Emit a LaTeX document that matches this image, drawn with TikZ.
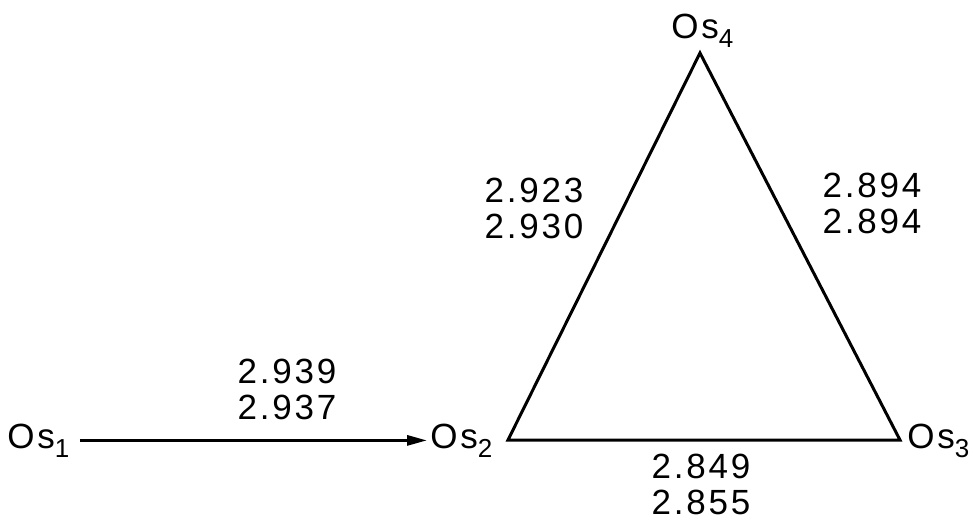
\documentclass[tikz,border=0pt]{standalone}
\usepackage{fontspec}
\setmainfont[LetterSpace=8]{Liberation Sans}
\usetikzlibrary{arrows.meta}

\newcommand{\Os}[1]{Os\raisebox{-0.5ex}{\fontsize{13}{13}\selectfont #1}}

\begin{document}
\begin{tikzpicture}[
  x=0.5pt, y=-0.5pt,
  atom/.style={inner sep=0pt, anchor=base west, font=\fontsize{17.5}{18}\selectfont},
  dist/.style={inner sep=0pt, align=center, font=\fontsize{17.5}{18}\selectfont},
  bond/.style={line width=1.5pt, line join=miter},
  arr/.style={line width=1.5pt, -{Triangle[length=10pt,width=5pt]}},
]
\useasboundingbox (0,0) rectangle (976,520);

% === Atoms ===
\node[atom] (os1) at (7,448) {\Os{1}};
\node[atom] (os2) at (430,448) {\Os{2}};
\node[atom] (os3) at (907,448) {\Os{3}};
\node[atom] (os4) at (671,38) {\Os{4}};

% === Triangle corners ===
\coordinate (v2) at (508,440);
\coordinate (v3) at (900,440);
\coordinate (v4) at (700,53);

% === Bonds ===
\draw[arr, shorten <=5pt, shorten >=1.5pt] (os1.east) -- (os2.west);
\draw[bond] (v2) -- (v3) -- (v4) -- cycle;

% === Distances ===
\node[dist] (d12) at (287,389) {2.939\\2.937};
\node[dist] (d24) at (534,208) {2.923\\2.930};
\node[dist] (d34) at (872,203) {2.894\\2.894};
\node[dist] (d23) at (701,484) {2.849\\2.855};

\end{tikzpicture}
\end{document}
